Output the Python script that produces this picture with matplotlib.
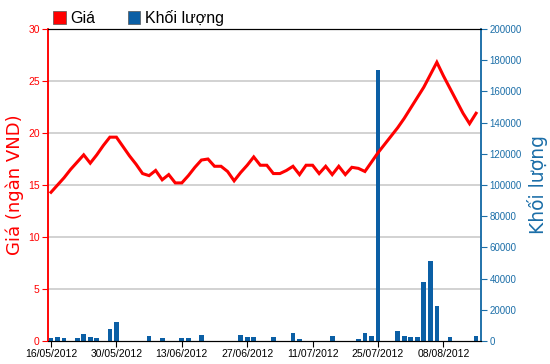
import matplotlib
matplotlib.use("Agg")
import matplotlib.pyplot as plt
from matplotlib.patches import Patch

# trading-day index 0..65, labels every 10 sessions
date_labels = ["16/05/2012", "30/05/2012", "13/06/2012", "27/06/2012",
               "11/07/2012", "25/07/2012", "08/08/2012"]
price = [14.3, 15.0, 15.7, 16.5, 17.2, 17.9, 17.1, 17.9, 18.8, 19.6,
         19.6, 18.7, 17.8, 17.0, 16.1, 15.9, 16.4, 15.5, 16.0, 15.2,
         15.2, 15.9, 16.7, 17.4, 17.5, 16.8, 16.8, 16.3, 15.4, 16.2,
         16.9, 17.7, 16.9, 16.9, 16.1, 16.1, 16.4, 16.8, 16.0, 16.9,
         16.9, 16.1, 16.8, 16.0, 16.8, 16.0, 16.7, 16.6, 16.3, 17.2,
         18.1, 18.9, 19.7, 20.5, 21.4, 22.4, 23.4, 24.4, 25.6, 26.8,
         25.5, 24.3, 23.1, 21.9, 20.9, 21.9]
volume = [1700, 2400, 1700, 0, 1700, 4300, 2400, 1700, 0, 7500,
          12200, 0, 0, 0, 0, 3200, 0, 1700, 0, 0,
          1700, 1700, 0, 4000, 0, 0, 0, 0, 0, 4000,
          2400, 2400, 0, 0, 2400, 0, 0, 4900, 1600, 0,
          0, 0, 0, 3200, 0, 0, 0, 1600, 4900, 3200,
          173700, 0, 0, 6400, 3200, 2400, 2400, 38000, 51000, 22400,
          0, 2400, 0, 0, 0, 3200]

RED = "#ff0000"
BLUE = "#0b5fa5"
AXBLUE = "#1b6ea8"

plt.rcParams["font.family"] = ["Liberation Sans", "DejaVu Sans"]

fig = plt.figure(figsize=(5.5, 3.64), dpi=100)
axv = fig.add_axes([48/550, 1-341/364, (481-48)/550, (341-29)/364])
axp = axv.twinx()
axp.set_zorder(axv.get_zorder() + 1)
axp.patch.set_visible(False)

x = list(range(len(price)))

# volume (right)
axv.set_ylim(0, 200000)
axv.set_yticks(range(0, 200001, 20000))
price_ticks = [0, 5, 10, 15, 20, 25, 30]
for t in price_ticks[1:-1]:
    axv.axhline(t / 30 * 200000, color="#cfcfcf", lw=1.3, zorder=0)
axv.bar(x, volume, width=0.72, color=BLUE, zorder=2)
axv.yaxis.tick_right()
axv.yaxis.set_label_position("right")
axv.tick_params(axis="y", colors=AXBLUE, labelsize=7, length=4, width=0.8, pad=2)
axv.set_ylabel("Khối lượng", color=AXBLUE, fontsize=13.5,
               family=["DejaVu Sans"], labelpad=4)

# price (left)
axp.plot(x, price, color=RED, lw=2.2, solid_joinstyle="miter")
axp.set_ylim(0, 30)
axp.set_yticks(price_ticks)
axp.yaxis.tick_left()
axp.yaxis.set_label_position("left")
axp.tick_params(axis="y", colors=RED, labelsize=7.5, length=4, width=0.8, pad=2)
axp.set_ylabel("Giá (ngàn VND)", color=RED, fontsize=13,
               family=["DejaVu Sans"], labelpad=3)

axv.set_xlim(-0.46, 65.75)
axv.set_xticks(range(0, 61, 10))
axv.set_xticklabels(date_labels)
axv.tick_params(axis="x", labelsize=7.5, length=4, width=0.8, pad=2)

for a in (axv, axp):
    a.spines["left"].set_color(RED)
    a.spines["right"].set_color(AXBLUE)
    a.spines["top"].set_color("black")
    a.spines["bottom"].set_color("black")
    a.spines["left"].set_linewidth(1.1)
    a.spines["right"].set_linewidth(1.1)

handles = [Patch(facecolor=RED, edgecolor="#555555", lw=0.5, label="Giá"),
           Patch(facecolor=BLUE, edgecolor="#555555", lw=0.5, label="Khối lượng")]
fig.legend(handles=handles, loc="center left", bbox_to_anchor=(53/550, 1-18/364),
           ncol=2, frameon=False, fontsize=11.5, handlelength=0.8, handleheight=0.8,
           handletextpad=0.3, columnspacing=2.0, borderpad=0, borderaxespad=0)

fig.savefig("out.png", dpi=100)
